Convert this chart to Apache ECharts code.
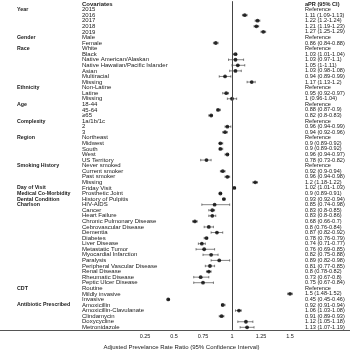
<!DOCTYPE html>
<html>
<head>
<meta charset="utf-8">
<script src="https://cdn.jsdelivr.net/npm/echarts@6/dist/echarts.min.js"></script>
<style>
  html, body { margin: 0; padding: 0; background: #fff; }
  #forest { width: 350px; height: 355px; }
</style>
</head>
<body>
<div id="forest"></div>
<script>
// row 0 is the table header
var covariates = ['Covariates',
  '2015', '2016', '2017', '2018', '2019',
  'Male', 'Female',
  'White', 'Black', 'Native American/Alaskan', 'Native Hawaiian/Pacific Islander', 'Asian', 'Multiracial', 'Missing',
  'Non-Latine', 'Latine', 'Missing',
  '18-44', '45-64', '\u226565',
  '1a/1b/1c', '2', '3',
  'Northeast', 'Midwest', 'South', 'West', 'US Territory',
  'Never smoked', 'Current smoker', 'Past smoker', 'Missing',
  'Friday Visit', 'Prosthetic Joint', 'History of Pulpitis',
  'HIV-AIDS', 'Cancer', 'Heart Failure', 'Chronic Pulmonary Disease', 'Cebrovascular Disease', 'Dementia',
  'Diabetes', 'Liver Disease', 'Metastatic Tumor', 'Myocardial Infarction', 'Paralysis',
  'Peripheral Vascular Disease', 'Renal Disease', 'Rheumatic Disease', 'Peptic Ulcer Disease',
  'Routine', 'Mildly invasive', 'Invasive',
  'Amoxicillin', 'Amoxicillin-Clavulanate', 'Clindamycin', 'Doxycycline', 'Metronidazole'];

// group heading -> row where it is printed
var groupRows = {
  'Year': 1, 'Gender': 6, 'Race': 8, 'Ethnicity': 15, 'Age': 18, 'Complexity': 21,
  'Region': 24, 'Smoking History': 29, 'Day of Visit': 33, 'Medical Co-Morbidity': 34,
  'Dental Condition': 35, 'Charlson': 36, 'CDT': 51, 'Antibiotic Prescribed': 54
};

// null = reference category
var aPR = [null,
  null, 1.11, 1.22, 1.21, 1.27,
  null, 0.86,
  null, 1.03, 1.03, 1.05, 1.03, 0.94, 1.17,
  null, 0.95, 1,
  null, 0.88, 0.82,
  null, 0.96, 0.94,
  null, 0.9, 0.9, 0.96, 0.78,
  null, 0.92, 0.96, 1.2,
  1.02, 0.9, 0.93,
  0.85, 0.83, 0.83, 0.68, 0.8, 0.87,
  0.78, 0.74, 0.76, 0.82, 0.89,
  0.81, 0.8, 0.73, 0.75,
  null, 1.5, 0.45,
  0.92, 1.06, 0.91, 1.12, 1.13];

var lower = [null,
  null, 1.09, 1.2, 1.19, 1.25,
  null, 0.84,
  null, 1.01, 0.97, 1, 0.98, 0.89, 1.13,
  null, 0.92, 0.96,
  null, 0.87, 0.8,
  null, 0.94, 0.92,
  null, 0.89, 0.89, 0.94, 0.73,
  null, 0.9, 0.94, 1.18,
  1.01, 0.89, 0.92,
  0.74, 0.8, 0.8, 0.66, 0.76, 0.82,
  0.76, 0.71, 0.69, 0.75, 0.82,
  0.77, 0.78, 0.67, 0.67,
  null, 1.48, 0.45,
  0.91, 1.03, 0.89, 1.05, 1.07];

var upper = [null,
  null, 1.13, 1.24, 1.23, 1.29,
  null, 0.88,
  null, 1.04, 1.1, 1.11, 1.08, 0.99, 1.2,
  null, 0.97, 1.04,
  null, 0.9, 0.83,
  null, 0.99, 0.96,
  null, 0.92, 0.92, 0.97, 0.82,
  null, 0.94, 0.98, 1.22,
  1.03, 0.91, 0.94,
  0.98, 0.85, 0.86, 0.7, 0.84, 0.92,
  0.79, 0.77, 0.85, 0.88, 0.98,
  0.85, 0.82, 0.8, 0.84,
  null, 1.52, 0.46,
  0.94, 1.08, 0.93, 1.18, 1.19];

var xTicks = [0.25, 0.5, 0.75, 1, 1.25, 1.5];

var font = 'Liberation Sans';
var textColor = '#1a1a1a';

var groupCol = covariates.map(function () { return ''; });
Object.keys(groupRows).forEach(function (g) { groupCol[groupRows[g]] = g; });

var aprCol = aPR.map(function (v, i) {
  if (i === 0) return 'aPR (95% CI)';
  if (v === null) return 'Reference';
  return v + ' (' + lower[i] + '-' + upper[i] + ')';
});

function boldFirst(arr) {
  return arr.map(function (t, i) {
    return i === 0 ? { value: t, textStyle: { fontWeight: 'bold', align: 'left' } } : t;
  });
}

function textAxis(data, margin, size, bold) {
  return {
    type: 'category',
    inverse: true,
    data: data,
    position: 'left',
    axisLine: { show: false },
    axisTick: { show: false },
    splitLine: { show: false },
    axisLabel: {
      interval: 0,
      margin: margin,
      align: 'left',
      fontFamily: font,
      fontSize: size,
      fontWeight: bold ? 'bold' : 'normal',
      color: textColor
    }
  };
}

var points = [], bars = [];
aPR.forEach(function (v, i) {
  if (v !== null) {
    points.push([v, i]);
    bars.push([lower[i], upper[i], i]);
  }
});

echarts.init(document.getElementById('forest')).setOption({
  animation: false,
  grid: { left: 0, right: 0, top: 1.2, height: 330, containLabel: false },
  xAxis: {
    type: 'value',
    min: -1,
    max: 2.0172,
    axisLine: { show: true, lineStyle: { color: '#555', width: 1 } },
    axisTick: { show: false },
    splitLine: { show: false },
    axisLabel: {
      customValues: xTicks,
      margin: 3,
      fontFamily: font,
      fontSize: 5.5,
      color: textColor
    },
    name: 'Adjusted Prevelance Rate Ratio (95% Confidence Interval)',
    nameLocation: 'middle',
    nameGap: 12,
    nameTextStyle: { fontFamily: font, fontSize: 6, color: textColor, padding: [0, 0, 0, 13] }
  },
  yAxis: [
    textAxis(boldFirst(covariates), -82, 6, false),
    textAxis(groupCol, -17, 5.3, true),
    textAxis(boldFirst(aprCol), -305, 5.6, false)
  ],
  series: [
    {
      type: 'custom',
      yAxisIndex: 0,
      data: bars,
      encode: { x: [0, 1], y: 2 },
      renderItem: function (params, api) {
        var a = api.coord([api.value(0), api.value(2)]);
        var b = api.coord([api.value(1), api.value(2)]);
        var h = 1.2;
        var st = { stroke: '#333', lineWidth: 0.6 };
        return {
          type: 'group',
          children: [
            { type: 'line', shape: { x1: a[0], y1: a[1], x2: b[0], y2: b[1] }, style: st },
            { type: 'line', shape: { x1: a[0], y1: a[1] - h, x2: a[0], y2: a[1] + h }, style: st },
            { type: 'line', shape: { x1: b[0], y1: b[1] - h, x2: b[0], y2: b[1] + h }, style: st }
          ]
        };
      },
      z: 2
    },
    {
      type: 'scatter',
      yAxisIndex: 0,
      data: points,
      symbol: 'circle',
      symbolSize: 3.8,
      itemStyle: { color: '#000' },
      z: 3,
      markLine: {
        silent: true,
        symbol: 'none',
        label: { show: false },
        lineStyle: { color: '#444', width: 1, type: 'solid' },
        data: [{ xAxis: 1 }]
      }
    }
  ]
});
</script>
</body>
</html>
